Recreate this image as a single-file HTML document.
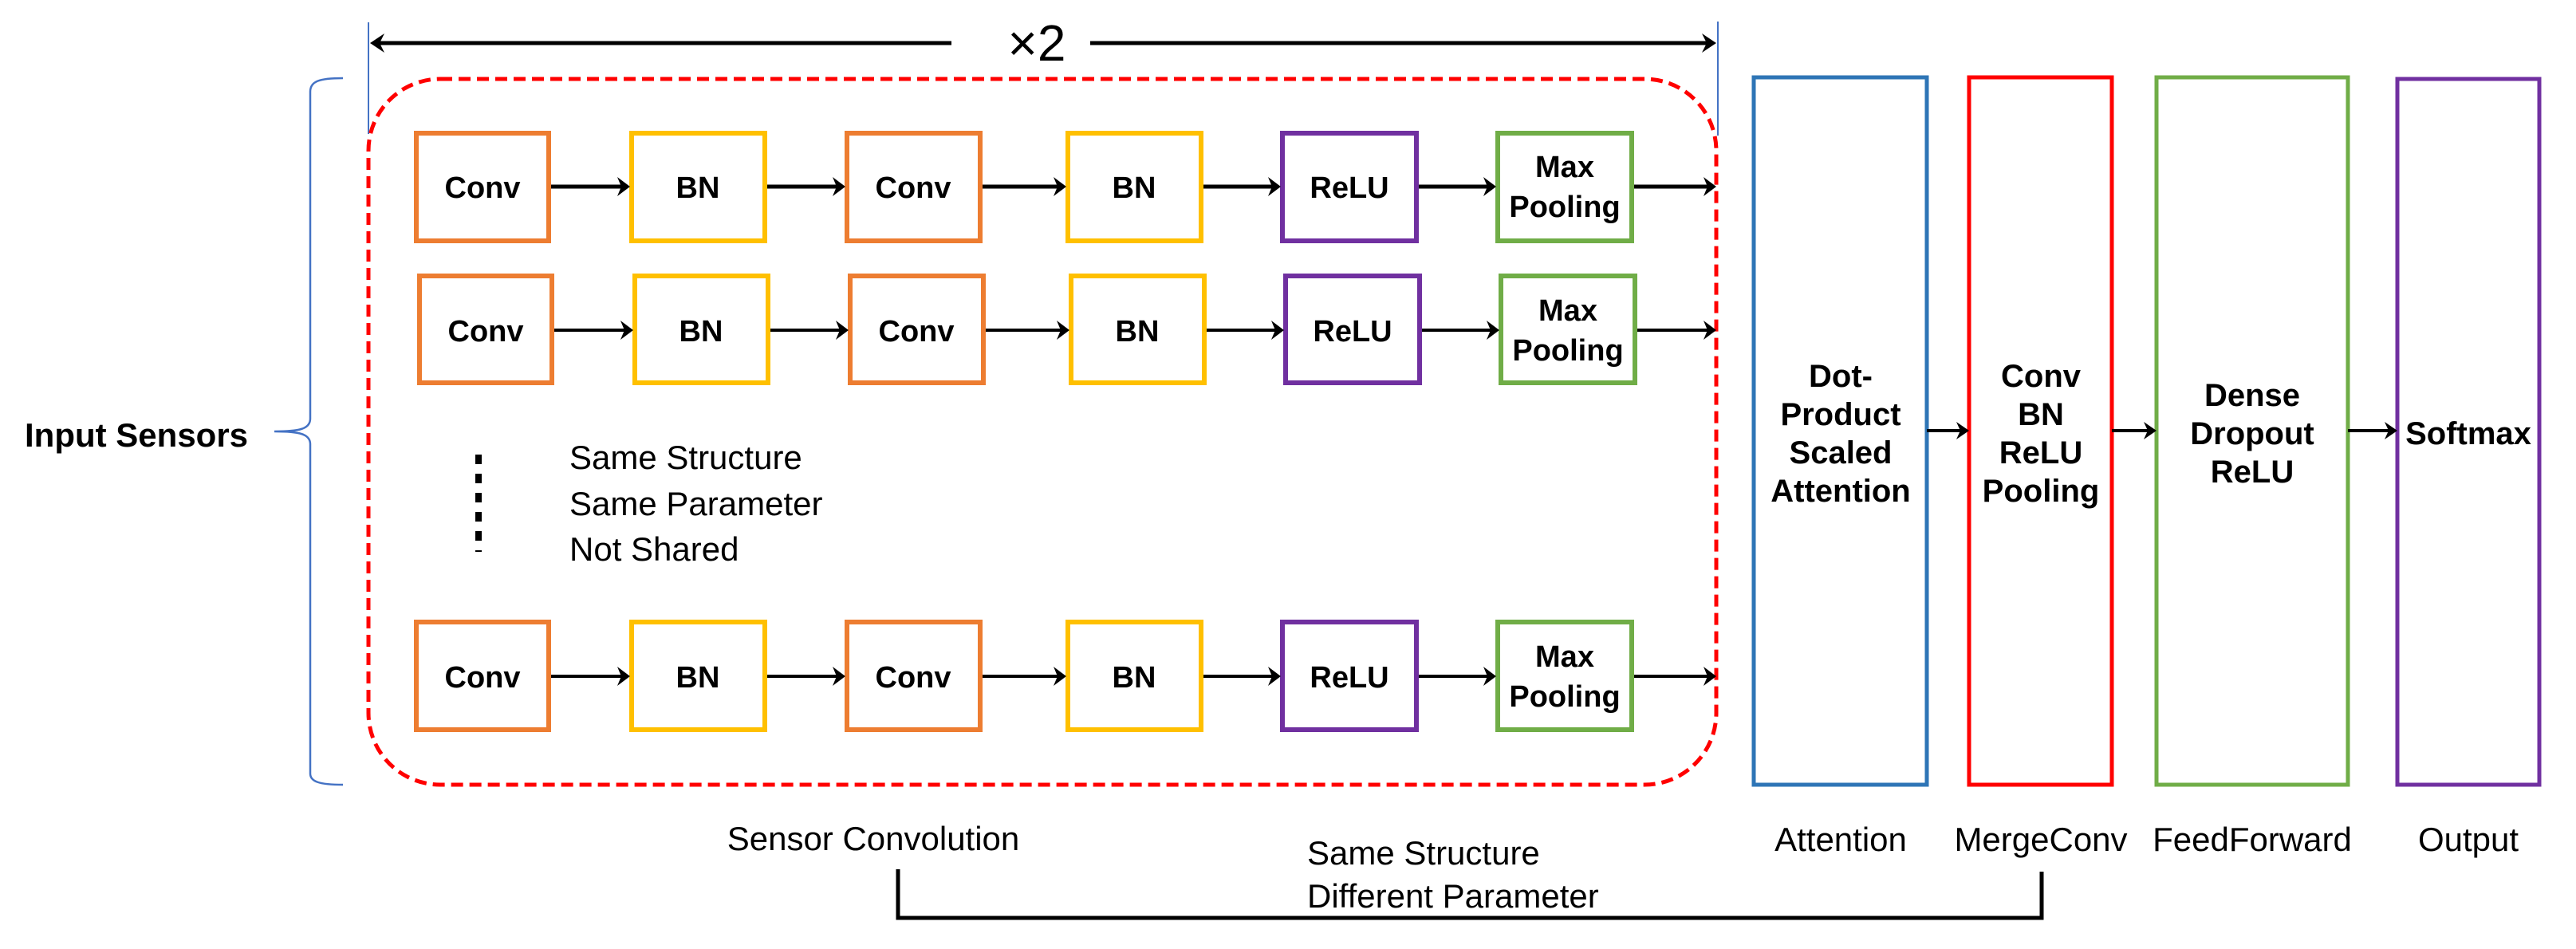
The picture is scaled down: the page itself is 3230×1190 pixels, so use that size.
<!DOCTYPE html>
<html><head><meta charset="utf-8"><style>
html,body{margin:0;padding:0;background:#fff;}
svg{display:block;}
text{font-family:"Liberation Sans",sans-serif;fill:#000;}
.b{font-weight:bold;font-size:38px;}
.r{font-size:42px;}
.rb{font-weight:bold;font-size:40px;}
</style></head><body>
<svg width="3230" height="1190" viewBox="0 0 3230 1190" xmlns="http://www.w3.org/2000/svg">
<line x1="462" y1="28" x2="462" y2="168" stroke="#4472C4" stroke-width="2"/>
<line x1="2154" y1="27" x2="2154" y2="170" stroke="#4472C4" stroke-width="2"/>
<line x1="470" y1="54" x2="1193" y2="54" stroke="#000" stroke-width="5"/>
<line x1="1367" y1="54" x2="2146" y2="54" stroke="#000" stroke-width="5"/>
<path d="M464 54 L482 42 L476 54 L482 66 Z" fill="#000"/>
<path d="M2152 54 L2134 42 L2140 54 L2134 66 Z" fill="#000"/>
<text x="1300" y="76" font-size="64" text-anchor="middle">×2</text>
<rect x="462" y="99" width="1690" height="885" rx="90" ry="90" fill="none" stroke="#FF0000" stroke-width="5" stroke-dasharray="15 8"/>
<path d="M430 98 C400 98 389 102 389 115 L389 525 C389 538 375 541 344 541 C375 541 389 544 389 557 L389 970 C389 980 400 984 430 984" fill="none" stroke="#4472C4" stroke-width="2.5"/>
<text x="31" y="560" font-size="42" font-weight="bold">Input Sensors</text>
<g stroke-width="6" fill="none">
<rect x="522" y="167" width="166" height="135" stroke="#ED7D31"/>
<rect x="792" y="167" width="167" height="135" stroke="#FFC000"/>
<rect x="1062" y="167" width="167" height="135" stroke="#ED7D31"/>
<rect x="1339" y="167" width="167" height="135" stroke="#FFC000"/>
<rect x="1608" y="167" width="168" height="135" stroke="#7030A0"/>
<rect x="1878" y="167" width="168" height="135" stroke="#70AD47"/>
<rect x="526" y="346" width="166" height="134" stroke="#ED7D31"/>
<rect x="796" y="346" width="167" height="134" stroke="#FFC000"/>
<rect x="1066" y="346" width="167" height="134" stroke="#ED7D31"/>
<rect x="1343" y="346" width="167" height="134" stroke="#FFC000"/>
<rect x="1612" y="346" width="168" height="134" stroke="#7030A0"/>
<rect x="1882" y="346" width="168" height="134" stroke="#70AD47"/>
<rect x="522" y="780" width="166" height="135" stroke="#ED7D31"/>
<rect x="792" y="780" width="167" height="135" stroke="#FFC000"/>
<rect x="1062" y="780" width="167" height="135" stroke="#ED7D31"/>
<rect x="1339" y="780" width="167" height="135" stroke="#FFC000"/>
<rect x="1608" y="780" width="168" height="135" stroke="#7030A0"/>
<rect x="1878" y="780" width="168" height="135" stroke="#70AD47"/>
</g>
<g stroke="#000" stroke-width="5">
<line x1="691" y1="234" x2="782" y2="234"/><line x1="962" y1="234" x2="1052" y2="234"/><line x1="1232" y1="234" x2="1329" y2="234"/><line x1="1509" y1="234" x2="1598" y2="234"/><line x1="1779" y1="234" x2="1868" y2="234"/><line x1="2049" y1="234" x2="2142" y2="234"/>
<line x1="695" y1="414" x2="786" y2="414" stroke-width="4"/><line x1="966" y1="414" x2="1056" y2="414" stroke-width="4"/><line x1="1236" y1="414" x2="1333" y2="414" stroke-width="4"/><line x1="1513" y1="414" x2="1602" y2="414" stroke-width="4"/><line x1="1783" y1="414" x2="1872" y2="414" stroke-width="4"/><line x1="2053" y1="414" x2="2142" y2="414" stroke-width="4"/>
<line x1="691" y1="848" x2="782" y2="848" stroke-width="4"/><line x1="962" y1="848" x2="1052" y2="848" stroke-width="4"/><line x1="1232" y1="848" x2="1329" y2="848" stroke-width="4"/><line x1="1509" y1="848" x2="1598" y2="848" stroke-width="4"/><line x1="1779" y1="848" x2="1868" y2="848" stroke-width="4"/><line x1="2049" y1="848" x2="2142" y2="848" stroke-width="4"/>
</g>
<g fill="#000">
<path d="M790 234 L774 222 L779 234 L774 246Z"/><path d="M1060 234 L1044 222 L1049 234 L1044 246Z"/><path d="M1337 234 L1321 222 L1326 234 L1321 246Z"/><path d="M1606 234 L1590 222 L1595 234 L1590 246Z"/><path d="M1876 234 L1860 222 L1865 234 L1860 246Z"/><path d="M2152 234 L2136 222 L2141 234 L2136 246Z"/>
<path d="M794 414 L778 402 L783 414 L778 426Z"/><path d="M1064 414 L1048 402 L1053 414 L1048 426Z"/><path d="M1341 414 L1325 402 L1330 414 L1325 426Z"/><path d="M1610 414 L1594 402 L1599 414 L1594 426Z"/><path d="M1880 414 L1864 402 L1869 414 L1864 426Z"/><path d="M2152 414 L2136 402 L2141 414 L2136 426Z"/>
<path d="M790 848 L774 836 L779 848 L774 860Z"/><path d="M1060 848 L1044 836 L1049 848 L1044 860Z"/><path d="M1337 848 L1321 836 L1326 848 L1321 860Z"/><path d="M1606 848 L1590 836 L1595 848 L1590 860Z"/><path d="M1876 848 L1860 836 L1865 848 L1860 860Z"/><path d="M2152 848 L2136 836 L2141 848 L2136 860Z"/>
</g>
<g text-anchor="middle">
<text class="b" x="605" y="248">Conv</text><text class="b" x="875" y="248">BN</text><text class="b" x="1145" y="248">Conv</text><text class="b" x="1422" y="248">BN</text><text class="b" x="1692" y="248">ReLU</text>
<text class="b" x="1962" y="222">Max</text><text class="b" x="1962" y="272">Pooling</text>
<text class="b" x="609" y="428">Conv</text><text class="b" x="879" y="428">BN</text><text class="b" x="1149" y="428">Conv</text><text class="b" x="1426" y="428">BN</text><text class="b" x="1696" y="428">ReLU</text>
<text class="b" x="1966" y="402">Max</text><text class="b" x="1966" y="452">Pooling</text>
<text class="b" x="605" y="862">Conv</text><text class="b" x="875" y="862">BN</text><text class="b" x="1145" y="862">Conv</text><text class="b" x="1422" y="862">BN</text><text class="b" x="1692" y="862">ReLU</text>
<text class="b" x="1962" y="836">Max</text><text class="b" x="1962" y="886">Pooling</text>
</g>
<line x1="600" y1="570" x2="600" y2="692" stroke="#000" stroke-width="8" stroke-dasharray="12 12"/>
<text class="r" x="714" y="588">Same Structure</text>
<text class="r" x="714" y="646">Same Parameter</text>
<text class="r" x="714" y="703">Not Shared</text>
<g fill="none" stroke-width="5">
<rect x="2199" y="97" width="217" height="887" stroke="#2E75B6"/>
<rect x="2469" y="97" width="179" height="887" stroke="#FF0000"/>
<rect x="2704" y="97" width="240" height="887" stroke="#70AD47"/>
<rect x="3006" y="99" width="178" height="885" stroke="#7030A0"/>
</g>
<g stroke="#000" stroke-width="4">
<line x1="2416" y1="540" x2="2460" y2="540"/><line x1="2648" y1="540" x2="2695" y2="540"/><line x1="2944" y1="540" x2="2997" y2="540"/>
</g>
<g fill="#000">
<path d="M2469 540 L2453 529 L2458 540 L2453 551Z"/><path d="M2704 540 L2688 529 L2693 540 L2688 551Z"/><path d="M3006 540 L2990 529 L2995 540 L2990 551Z"/>
</g>
<g text-anchor="middle">
<text class="rb" x="2308" y="485">Dot-</text><text class="rb" x="2308" y="533">Product</text><text class="rb" x="2308" y="581">Scaled</text><text class="rb" x="2308" y="629">Attention</text>
<text class="rb" x="2559" y="485">Conv</text><text class="rb" x="2559" y="533">BN</text><text class="rb" x="2559" y="581">ReLU</text><text class="rb" x="2559" y="629">Pooling</text>
<text class="rb" x="2824" y="509">Dense</text><text class="rb" x="2824" y="557">Dropout</text><text class="rb" x="2824" y="605">ReLU</text>
<text class="rb" x="3095" y="557">Softmax</text>
<text class="r" x="2308" y="1067">Attention</text>
<text class="r" x="2559" y="1067">MergeConv</text>
<text class="r" x="2824" y="1067">FeedForward</text>
<text class="r" x="3095" y="1067">Output</text>
<text class="r" x="1095" y="1066">Sensor Convolution</text>
</g>
<text class="r" x="1639" y="1084">Same Structure</text>
<text class="r" x="1639" y="1138">Different Parameter</text>
<path d="M1126 1090 L1126 1151 L2560 1151 L2560 1093" fill="none" stroke="#000" stroke-width="5"/>
</svg>
</body></html>
